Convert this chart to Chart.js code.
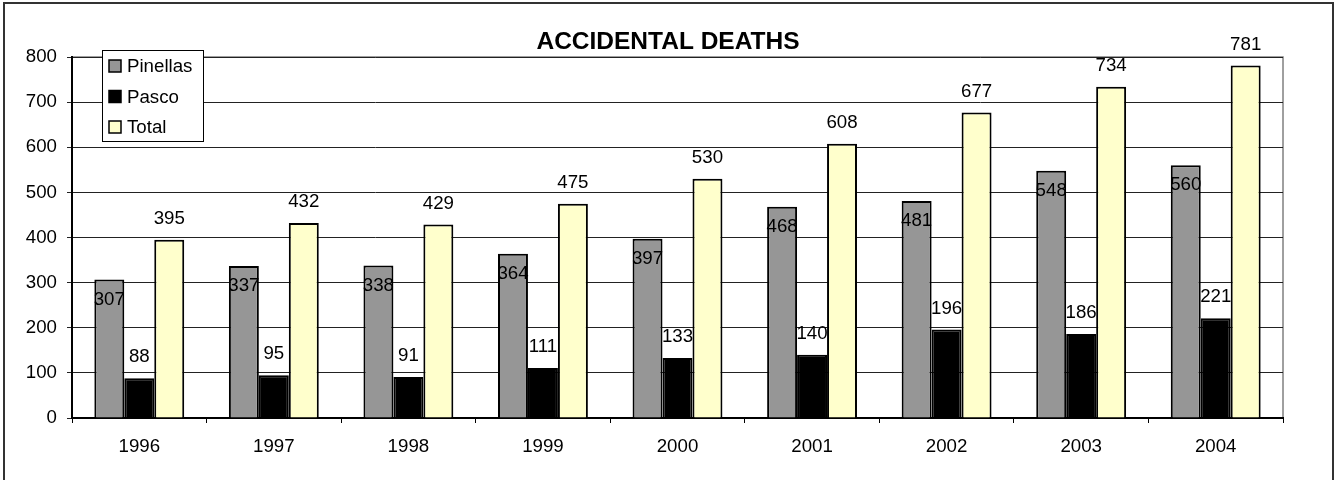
<!DOCTYPE html>
<html>
<head>
<meta charset="utf-8">
<script src="https://cdn.jsdelivr.net/npm/chart.js@4/dist/chart.umd.min.js"></script>
<style>
  html, body { margin: 0; padding: 0; background: #fff; }
  #wrap { position: relative; width: 1336px; height: 480px; }
</style>
</head>
<body>
<div id="wrap"><canvas id="deathsChart"></canvas></div>
<script>
const years = ['1996', '1997', '1998', '1999', '2000', '2001', '2002', '2003', '2004'];
const pinellas = [307, 337, 338, 364, 397, 468, 481, 548, 560];
const pasco = [88, 95, 91, 111, 133, 140, 196, 186, 221];
const total = [395, 432, 429, 475, 530, 608, 677, 734, 781];
const seriesNames = ['Pinellas', 'Pasco', 'Total'];
const seriesColors = ['#969696', '#000000', '#FFFFCC'];
const chartTitle = 'ACCIDENTAL DEATHS';

const FONT = 'Arial, "Liberation Sans", sans-serif';

// outer frame + grey plot border (top / right)
const framePlugin = {
  id: 'frame',
  beforeDraw: (chart) => {
    const ctx = chart.ctx;
    const a = chart.chartArea;
    ctx.save();
    ctx.fillStyle = '#fff';
    ctx.fillRect(0, 0, chart.width, chart.height);
    ctx.strokeStyle = '#333';
    ctx.lineWidth = 2;
    ctx.strokeRect(4, 3, chart.width - 7, chart.height + 10);
    ctx.strokeStyle = '#808080';
    ctx.lineWidth = 1.5;
    ctx.strokeRect(a.left, a.top, a.right - a.left, a.bottom - a.top);
    ctx.restore();
  },
  afterDraw: (chart) => {
    // title centred on the whole chart box, Excel style
    const ctx = chart.ctx;
    const a = chart.chartArea;
    ctx.save();
    ctx.font = 'bold 24.5px ' + FONT;
    ctx.fillStyle = '#000';
    ctx.textAlign = 'center';
    ctx.textBaseline = 'middle';
    ctx.fillText(chartTitle, 668, a.top - 15);
    ctx.restore();
  }
};

// value labels: Pinellas just inside the top, the others above the bar
const valueLabels = {
  id: 'valueLabels',
  afterDatasetsDraw: (chart) => {
    const ctx = chart.ctx;
    ctx.save();
    ctx.font = '18.7px ' + FONT;
    ctx.fillStyle = '#000';
    ctx.textAlign = 'center';
    ctx.textBaseline = 'middle';
    chart.data.datasets.forEach((ds, i) => {
      const meta = chart.getDatasetMeta(i);
      meta.data.forEach((bar, j) => {
        let y = i === 0 ? bar.y + 20 : bar.y - 21;
        ctx.fillText(String(ds.data[j]), bar.x, y);
      });
    });
    ctx.restore();
  }
};

// boxed legend sitting inside the plot, top-left
const boxLegend = {
  id: 'boxLegend',
  afterDraw: (chart) => {
    const ctx = chart.ctx;
    const a = chart.chartArea;
    const x0 = a.left + 30, y0 = a.top - 7;
    ctx.save();
    ctx.fillStyle = '#fff';
    ctx.fillRect(x0, y0, 101, 91);
    ctx.strokeStyle = '#000';
    ctx.lineWidth = 1;
    ctx.strokeRect(x0 + 0.5, y0 + 0.5, 101, 91);
    ctx.font = '18.7px ' + FONT;
    ctx.textBaseline = 'middle';
    ctx.textAlign = 'left';
    chart.data.datasets.forEach((ds, i) => {
      const cy = y0 + 16 + i * 30.5;
      ctx.fillStyle = ds.backgroundColor;
      ctx.fillRect(x0 + 7, cy - 6, 12, 12);
      ctx.lineWidth = 1.5;
      ctx.strokeStyle = '#000';
      ctx.strokeRect(x0 + 7, cy - 6, 12, 12);
      ctx.fillStyle = '#000';
      ctx.fillText(ds.label, x0 + 25, cy + 1);
    });
    ctx.restore();
  }
};

new Chart(document.getElementById('deathsChart'), {
  type: 'bar',
  data: {
    labels: years,
    datasets: [
      { label: seriesNames[0], data: pinellas, backgroundColor: seriesColors[0], borderColor: '#000', borderWidth: 2 },
      { label: seriesNames[1], data: pasco, backgroundColor: seriesColors[1], borderColor: '#000', borderWidth: 2 },
      { label: seriesNames[2], data: total, backgroundColor: seriesColors[2], borderColor: '#000', borderWidth: 2 }
    ]
  },
  options: {
    responsive: true,
    maintainAspectRatio: false,
    animation: false,
    layout: { padding: { left: 0, right: 53, top: 57, bottom: 0 } },
    datasets: { bar: { categoryPercentage: 0.668, barPercentage: 1.0 } },
    plugins: {
      legend: { display: false },
      tooltip: { enabled: false },
      title: { display: false }
    },
    scales: {
      x: {
        afterFit: (scale) => { scale.height = 62; },
        grid: { drawOnChartArea: false, drawTicks: true, tickLength: 5, color: '#000', lineWidth: 1 },
        border: { color: '#000', width: 2 },
        ticks: { color: '#000', padding: 13, font: { family: FONT, size: 18.7 } }
      },
      y: {
        min: 0,
        max: 800,
        afterFit: (scale) => { scale.width = 72; },
        grid: { color: '#222', lineWidth: 1, tickLength: 5 },
        border: { color: '#000', width: 2 },
        ticks: { stepSize: 100, color: '#000', padding: 10, font: { family: FONT, size: 18.7 } }
      }
    }
  },
  plugins: [framePlugin, valueLabels, boxLegend]
});
</script>
</body>
</html>
